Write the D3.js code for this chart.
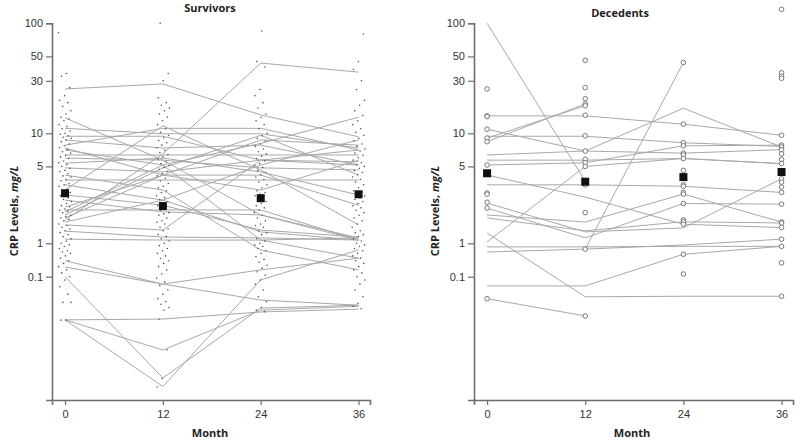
<!DOCTYPE html>
<html><head><meta charset="utf-8">
<script src="https://cdn.jsdelivr.net/npm/d3@7"></script>
<style>
body{margin:0;background:#fff;}
svg{display:block;font-family:"Open Sans","Noto Sans",sans-serif;}
</style></head>
<body>
<svg id="chart" width="800" height="444"></svg>
<script>
// ---------- DATA ----------
const months = [0, 12, 24, 36];
const yTickValues = [0.1, 1, 5, 10, 30, 50, 100];
const yTickLabels = ["0.1", "1", "5", "10", "30", "50", "100"];

// Survivors: individual observations (mg/L) per month
const survivors0 = [82,35,33,26,22,20,19,17.5,16,15,14,13.5,13,12,11.5,11,10.5,10,9.8,9.5,9.2,9,8.7,8.4,8,7.7,7.4,7.1,6.8,6.6,6.3,6.1,5.9,5.6,5.4,5.2,5,4.8,4.6,4.5,4.3,4.1,4,3.8,3.7,3.5,3.4,3.3,3.1,3,2.9,2.8,2.7,2.6,2.5,2.4,2.3,2.2,2.15,2.05,2,1.95,1.9,1.8,1.75,1.7,1.65,1.6,1.5,1.45,1.4,1.35,1.3,1.25,1.2,1.15,1.1,1.05,1,0.9,0.8,0.7,0.6,0.55,0.5,0.42,0.36,0.3,0.25,0.2,0.16,0.13,0.1,0.08,0.05,0.03,0.017,0.017,0.005,0.005];
const survivors12 = [100,35,30,21,19,18,17,16,15,14,13,12,11,10.2,9.6,9.1,8.6,8.2,7.8,7.4,7,6.7,6.4,6.1,5.8,5.5,5.3,5.1,4.9,4.7,4.5,4.3,4.1,3.9,3.7,3.5,3.3,3.2,3,2.9,2.7,2.6,2.5,2.4,2.3,2.2,2.1,2,1.9,1.85,1.8,1.7,1.6,1.55,1.5,1.4,1.35,1.3,1.2,1.15,1.1,1.05,1,0.85,0.7,0.6,0.5,0.42,0.35,0.3,0.25,0.2,0.16,0.12,0.09,0.07,0.055,0.04,0.03,0.022,0.018,0.015,0.012,0.01,0.0054,0.00064,0.00009,0.00005];
const survivors24 = [85,45,40,25,22,19,17,15,14,13,12,11,10,9.5,9,8.5,8,7.6,7.2,6.8,6.5,6.2,5.9,5.6,5.3,5.1,4.9,4.6,4.4,4.2,4,3.8,3.6,3.4,3.2,3,2.9,2.8,2.7,2.6,2.5,2.4,2.3,2.2,2.1,2,1.9,1.8,1.7,1.6,1.5,1.45,1.4,1.3,1.25,1.2,1.1,1.05,1,0.9,0.8,0.7,0.6,0.5,0.4,0.33,0.27,0.22,0.18,0.14,0.11,0.08,0.06,0.04,0.025,0.018,0.012,0.01,0.009];
const survivors36 = [80,45,38,30,25,20,18,16,14.5,13,12,11,10.2,9.6,9,8.5,8,7.6,7.2,6.9,6.6,6.3,6,5.7,5.4,5.2,5,4.8,4.6,4.4,4.2,4,3.8,3.6,3.4,3.2,3,2.9,2.8,2.7,2.6,2.5,2.4,2.3,2.2,2.1,2,1.9,1.8,1.7,1.6,1.5,1.4,1.3,1.25,1.2,1.15,1.1,1.05,1,0.9,0.8,0.7,0.6,0.5,0.42,0.36,0.3,0.25,0.2,0.16,0.13,0.1,0.08,0.06,0.04,0.025,0.016,0.013,0.011];
const survivorMedians = [2.85, 2.18, 2.57, 2.79];
// Survivors: individual trajectories (values at 0,12,24,36 months)
const survivorLines = [
  [25.3,28.1,14.7,9.3],[1.63,6.5,43.5,36],[13.8,5.7,1.81,1.07],[11.1,9.9,9.9,7.35],
  [9.4,9.4,5.7,5.15],[8.7,7.35,7.8,5.15],[7.35,4.17,4.17,2.22],[6.35,6.35,6.35,6.35],
  [5.95,5.7,4.85,4.64],[5.35,5.95,4.45,2.75],[4.85,4.45,5.7,5.5],[3.76,3.76,3.76,3.76],
  [3.4,2.47,1.27,1.07],[2.75,2.22,1.32,1.14],[2.47,1.93,1.81,1.12],[1.93,5.15,8.1,14.0],
  [1.81,4.85,9.6,4.17],[1.7,4.17,3.05,5.7],[1.56,2.47,5.15,8.7],[2.01,2.01,2.01,1.07],
  [1.29,1.14,1.12,1.07],[1.09,1.07,1.07,1.12],[0.3,0.06,0.16,0.36],[0.195,0.06,0.02,0.014],
  [0.1,0.000093,0.0115,0.014],[0.0051,0.000052,0.08,0.63],[0.0051,0.00064,0.01,0.013],[0.0051,0.0054,0.0088,0.0107],
  [7.05,5.15,1.07,0.36],[4.17,3.05,0.63,0.16],[3.05,11.7,4.64,1.47],[2.13,4.17,8.7,7.8],
  [1.47,1.32,5.7,7.05],[7.8,11.1,11.1,7.05]
];

// Decedents: individual observations (mg/L) per month
const decedents0 = [25.3,14.4,14.2,10.9,9.05,8.4,5.15,2.86,2.8,2.36,2.09,0.022];
const decedents12 = [46,26,20.6,18.5,17.8,14.6,9.5,6.9,5.8,5.4,5.0,3.4,1.9,0.67,0.0067];
const decedents24 = [44,12.1,8.2,7.7,6.6,6.35,5.9,4.6,3.4,3.3,2.9,2.8,2.3,1.63,1.57,1.49,0.47,0.12];
const decedents36 = [134,35.5,33,31.6,9.6,7.8,7.5,7.1,6.5,5.8,5.3,3.86,3.6,3.25,2.9,2.27,1.56,1.53,1.39,1.09,0.81,0.26,0.026];
const decedentMedians = [4.33, 3.63, 4.0, 4.45];
const decedentLines = [
  [100,3.68,null,null],[14.4,14.4,12.1,9.6],[10.9,6.9,6.6,7.1],[9.05,17.8,null,null],
  [8.4,18.5,null,null],[9.4,9.4,8.2,7.6],[6.35,6.9,16.9,7.5],[5.7,5.7,5.9,5.3],
  [5.15,5.4,7.7,7.8],[4.17,2.63,1.49,1.39],[3.4,3.4,3.3,2.9],[2.32,1.27,1.38,3.86],
  [2.09,1.12,2.3,2.27],[1.81,1.56,2.8,1.56],[1.24,0.025,0.026,0.026],[0.78,0.78,0.81,0.81],
  [0.55,0.67,0.89,1.09],[0.053,0.053,0.47,0.81],[0.022,0.0067,null,null],[null,0.67,44,null],
  [1.03,5.0,5.9,5.3],[1.7,1.3,1.57,1.53]
];

// ---------- DRAWING ----------
const svg = d3.select("#chart");
const ylog = d3.scaleLinear().domain([-4.69, -1, 0, 2]).range([400, 276.7, 243.3, 23.3]);
const yv = v => ylog(Math.log10(v));

function panel(opt) {
  const x = d3.scaleLinear().domain([-1.6, 37.4]).range(opt.xr);
  const g = svg.append("g");

  // axes
  const ya = g.append("g").attr("transform", `translate(${opt.xr[0]},0)`)
    .call(d3.axisLeft(ylog).tickValues(yTickValues.map(Math.log10))
      .tickFormat((d, i) => yTickLabels[i]).tickSizeOuter(0).tickSize(6).tickPadding(3));
  const xa = g.append("g").attr("transform", `translate(0,400)`)
    .call(d3.axisBottom(x).tickValues(months).tickSizeOuter(0).tickSize(5).tickPadding(5));
  [ya, xa].forEach(a => {
    a.selectAll("path.domain").attr("stroke", "#6e6e6e").attr("stroke-width", 1.6);
    a.selectAll(".tick line").attr("stroke", "#6e6e6e").attr("stroke-width", 1.2);
    a.selectAll(".tick text").attr("fill", "#333").style("font-size", "11px");
  });

  // trajectories
  const line = d3.line().defined(d => d[1] != null).x(d => x(d[0])).y(d => yv(d[1]));
  g.append("g").selectAll("path").data(opt.lines).join("path")
    .attr("d", d => line(d.map((v, i) => [months[i], v])))
    .attr("fill", "none").attr("stroke", "#a8a8a8").attr("stroke-width", 1);

  // observations
  opt.obs.forEach((arr, mi) => {
    const gg = g.append("g");
    if (opt.kind === "dot") {
      // deterministic horizontal jitter (display only, golden-ratio sequence)
      const jit = i => { const f = (i * 0.6180339887 + mi * 0.29) % 1; return (f - 0.5) * 13; };
      gg.selectAll("circle").data(arr).join("circle")
        .attr("cx", (d, i) => x(months[mi]) + jit(i))
        .attr("cy", d => yv(d))
        .attr("r", 0.8).attr("fill", "#555");
    } else {
      gg.selectAll("circle").data(arr).join("circle")
        .attr("cx", x(months[mi])).attr("cy", d => yv(d))
        .attr("r", 2.3).attr("fill", "#fff").attr("stroke", "#6a6a6a").attr("stroke-width", 0.9);
    }
  });

  // medians
  g.append("g").selectAll("rect").data(opt.medians).join("rect")
    .attr("x", (d, i) => x(months[i]) - 4).attr("y", d => yv(d) - 4)
    .attr("width", 8).attr("height", 8).attr("fill", "#111");

  // titles
  g.append("text").attr("x", opt.titleX).attr("y", opt.titleY).attr("text-anchor", "middle")
    .style("font-size", "11px").style("font-weight", "bold").attr("fill", "#222").text(opt.title);
  g.append("text").attr("x", opt.monthX).attr("y", 437).attr("text-anchor", "middle")
    .style("font-size", "11px").style("font-weight", "bold").attr("fill", "#222").text("Month");
  const yl = g.append("text").attr("transform", `translate(${opt.ylabX},211) rotate(-90)`)
    .attr("text-anchor", "middle").style("font-size", "11px").style("font-weight", "bold").attr("fill", "#222");
  yl.append("tspan").text("CRP Levels, ");
  yl.append("tspan").style("font-style", "italic").text("mg/L");
}

panel({xr: [52, 370], lines: survivorLines, obs: [survivors0, survivors12, survivors24, survivors36],
  kind: "dot", medians: survivorMedians, title: "Survivors", titleX: 210, titleY: 12, monthX: 210, ylabX: 18});
panel({xr: [474, 793], lines: decedentLines, obs: [decedents0, decedents12, decedents24, decedents36],
  kind: "circle", medians: decedentMedians, title: "Decedents", titleX: 620, titleY: 17, monthX: 632, ylabX: 439});
</script>
</body></html>
